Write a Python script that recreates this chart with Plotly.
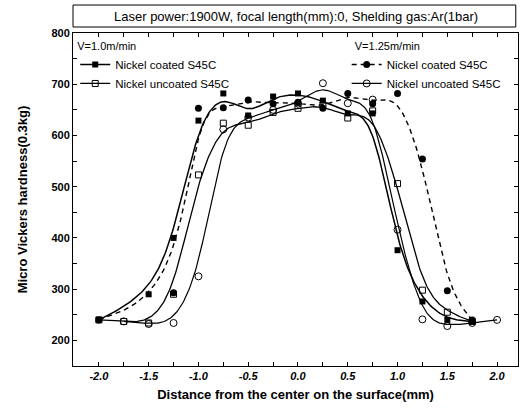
import numpy as np
import plotly.graph_objects as go

# Micro Vickers hardness profiles across the laser-hardened track
coated_10_x = [-2.0, -1.5, -1.25, -1.0, -0.75, -0.5, -0.25, 0.0, 0.25, 0.5, 0.75, 1.0, 1.25, 1.5, 1.75]
coated_10_y = [240, 290, 400, 629, 682, 639, 676, 682, 668, 643, 643, 376, 276, 240, 237]

uncoated_10_x = [-2.0, -1.75, -1.5, -1.25, -1.0, -0.75, -0.5, -0.25, 0.0, 0.25, 0.5, 0.75, 1.0, 1.25, 1.5, 1.75]
uncoated_10_y = [240, 237, 234, 290, 523, 624, 620, 645, 653, 660, 634, 648, 506, 298, 255, 237]

coated_125_x = [-2.0, -1.25, -1.0, -0.75, -0.5, -0.25, 0.0, 0.25, 0.5, 0.75, 1.0, 1.25, 1.5, 1.75]
coated_125_y = [240, 293, 653, 654, 669, 662, 665, 653, 682, 662, 682, 554, 297, 240]

uncoated_125_x = [-1.75, -1.5, -1.25, -1.0, -0.75, -0.5, -0.25, 0.0, 0.25, 0.5, 0.75, 1.0, 1.25, 1.5, 1.75, 2.0]
uncoated_125_y = [237, 232, 234, 325, 612, 635, 650, 662, 702, 663, 670, 416, 241, 228, 234, 240]

series_label_coated = "Nickel coated S45C"
series_label_uncoated = "Nickel uncoated S45C"
speed_labels = ["V=1.0m/min", "V=1.25m/min"]
x_ticks = [-2.0, -1.5, -1.0, -0.5, 0.0, 0.5, 1.0, 1.5, 2.0]
y_ticks = [200, 300, 400, 500, 600, 700, 800]
title_text = "Laser power:1900W, focal length(mm):0, Shelding gas:Ar(1bar)"

FONT = "Liberation Sans, Arial, sans-serif"


def bspline(xs, ys, samples=24):
    """Clamped uniform cubic B-spline using the measured points as control points."""
    pts = np.column_stack([xs, ys]).astype(float)
    pts = np.vstack([pts[:1], pts[:1], pts, pts[-1:], pts[-1:]])
    t = np.linspace(0, 1, samples, endpoint=False)
    b0 = (1 - t) ** 3 / 6
    b1 = (3 * t ** 3 - 6 * t ** 2 + 4) / 6
    b2 = (-3 * t ** 3 + 3 * t ** 2 + 3 * t + 1) / 6
    b3 = t ** 3 / 6
    out = []
    for i in range(len(pts) - 3):
        p0, p1, p2, p3 = pts[i:i + 4]
        seg = (np.outer(b0, p0) + np.outer(b1, p1) + np.outer(b2, p2) + np.outer(b3, p3))
        out.append(seg)
    out.append(pts[-1:])
    curve = np.vstack(out)
    return curve[:, 0], curve[:, 1]


series = [
    dict(x=coated_10_x, y=coated_10_y, name=series_label_coated, legend="legend",
         line=dict(color="black", width=1.5),
         marker=dict(symbol="square", size=6, color="black")),
    dict(x=uncoated_10_x, y=uncoated_10_y, name=series_label_uncoated, legend="legend",
         line=dict(color="black", width=1.3),
         marker=dict(symbol="square-open", size=6, color="black", line=dict(width=1))),
    dict(x=coated_125_x, y=coated_125_y, name=series_label_coated, legend="legend2",
         line=dict(color="black", width=1.4, dash="5px,4px"),
         marker=dict(symbol="circle", size=7, color="black")),
    dict(x=uncoated_125_x, y=uncoated_125_y, name=series_label_uncoated, legend="legend2",
         line=dict(color="black", width=1.2),
         marker=dict(symbol="circle-open", size=7, color="black", line=dict(width=1))),
]

fig = go.Figure()
for s in series:
    cx, cy = bspline(s["x"], s["y"])
    # smoothed connecting curve
    fig.add_trace(go.Scatter(x=cx, y=cy, mode="lines", line=s["line"],
                             showlegend=False, hoverinfo="skip"))
    # measured points
    fig.add_trace(go.Scatter(x=s["x"], y=s["y"], mode="markers", marker=s["marker"],
                             showlegend=False, name=s["name"]))
    # legend key: line with the marker symbol
    fig.add_trace(go.Scatter(x=[None], y=[None], mode="lines+markers", name=s["name"],
                             legend=s["legend"], line=s["line"], marker=s["marker"]))

axis_common = dict(
    showline=True, linecolor="black", linewidth=1, mirror="ticks",
    ticks="inside", ticklen=4, tickcolor="black", showgrid=False, zeroline=False,
)

fig.update_xaxes(
    range=[-2.26, 2.21], tickvals=x_ticks, ticktext=[f"{v:.1f}" for v in x_ticks],
    tickfont=dict(family=FONT, size=11, color="black", weight="bold", style="italic"),
    minor=dict(ticks="inside", ticklen=4, dtick=0.5, tick0=0.25, tickcolor="black"),
    title=dict(text="Distance from the center on the surface(mm)",
               font=dict(family=FONT, size=13, color="black", weight="bold"), standoff=8),
    **axis_common,
)
fig.update_yaxes(
    range=[150, 800], tickvals=y_ticks,
    tickfont=dict(family=FONT, size=11, color="black", weight="bold"),
    minor=dict(ticks="inside", ticklen=4, dtick=100, tick0=250, tickcolor="black"),
    title=dict(text="Micro Vickers hardness(0.3kg)",
               font=dict(family=FONT, size=13, color="black", weight="bold"), standoff=20),
    **axis_common,
)

legend_common = dict(
    bgcolor="rgba(0,0,0,0)", borderwidth=0, xanchor="left", yanchor="top",
    font=dict(family=FONT, size=11.5, color="black"), itemwidth=30,
    tracegroupgap=0,
)
fig.update_layout(
    width=525, height=409,
    margin=dict(l=73, r=7, t=33, b=43),
    paper_bgcolor="white", plot_bgcolor="white",
    font=dict(family=FONT, color="black"),
    showlegend=True,
    legend=dict(x=0.005, y=0.992, title=dict(text=speed_labels[0], font=dict(family=FONT, size=11)),
                **legend_common),
    legend2=dict(x=0.615, y=0.992, title=dict(text="  " + speed_labels[1], font=dict(family=FONT, size=11)),
                 **legend_common),
    shapes=[dict(type="rect", xref="paper", yref="paper", x0=0, x1=0.995, y0=1.018, y1=1.084,
                 line=dict(color="black", width=1), fillcolor="white")],
    annotations=[dict(text=title_text, xref="paper", yref="paper", x=0.5, y=1.051,
                      xanchor="center", yanchor="middle", showarrow=False,
                      font=dict(family=FONT, size=13, color="black"))],
)

fig.write_html("out.html")
